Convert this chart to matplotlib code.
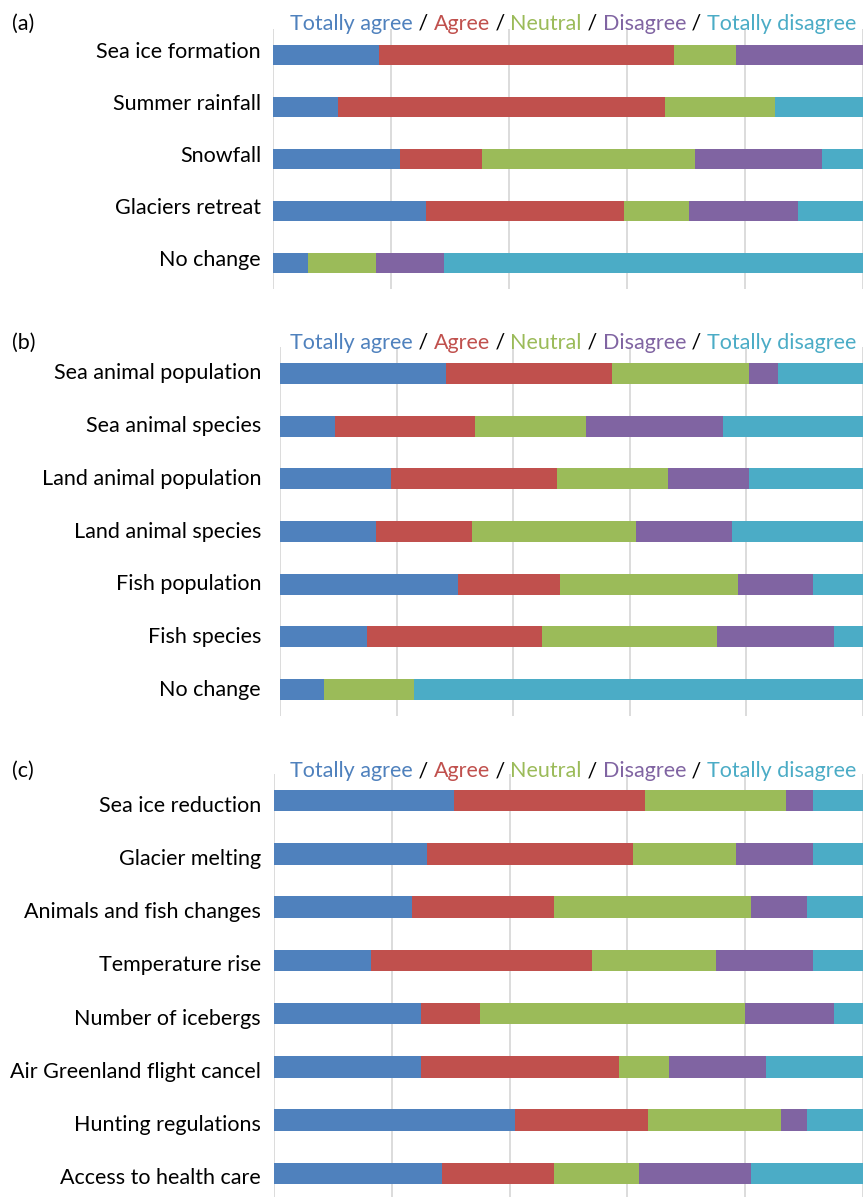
import numpy as np
import matplotlib
matplotlib.use("Agg")
import matplotlib.pyplot as plt

plt.rcParams['font.family'] = ['Lato', 'DejaVu Sans']

# response categories and colours
answers = ["Totally agree", "Agree", "Neutral", "Disagree", "Totally disagree"]
colors = ["#4F81BD", "#C0504D", "#9BBB59", "#8064A2", "#4BACC6"]

# (a) physical changes, % of respondents
items_a = ["Sea ice formation", "Summer rainfall", "Snowfall", "Glaciers retreat", "No change"]
totally_agree_a = [18, 11, 21.5, 26, 6]
agree_a = [50, 55.5, 14, 33.5, 0]
neutral_a = [10.5, 18.5, 36, 11, 11.5]
disagree_a = [21.5, 0, 21.5, 18.5, 11.5]
totally_disagree_a = [0, 15, 7, 11, 71]

# (b) animals and fish
items_b = ["Sea animal population", "Sea animal species", "Land animal population",
           "Land animal species", "Fish population", "Fish species", "No change"]
totally_agree_b = [28.5, 9.5, 19, 16.5, 30.5, 15, 7.5]
agree_b = [28.5, 24, 28.5, 16.5, 17.5, 30, 0]
neutral_b = [23.5, 19, 19, 28, 30.5, 30, 15.5]
disagree_b = [5, 23.5, 14, 16.5, 13, 20, 0]
totally_disagree_b = [14.5, 24, 19.5, 22.5, 8.5, 5, 77]

# (c) effects on daily life
items_c = ["Sea ice reduction", "Glacier melting", "Animals and fish changes", "Temperature rise",
           "Number of icebergs", "Air Greenland flight cancel", "Hunting regulations",
           "Access to health care"]
totally_agree_c = [30.5, 26, 23.5, 16.5, 25, 25, 41, 28.5]
agree_c = [32.5, 35, 24, 37.5, 10, 33.5, 22.5, 19]
neutral_c = [24, 17.5, 33.5, 21, 45, 8.5, 22.5, 14.5]
disagree_c = [4.5, 13, 9.5, 16.5, 15, 16.5, 4.5, 19]
totally_disagree_c = [8.5, 8.5, 9.5, 8.5, 5, 16.5, 9.5, 19]

W, H = 863, 1197
fig = plt.figure(figsize=(W/100, H/100), dpi=100)

def px_axes(left, top, bottom):
    return fig.add_axes([left/W, 1-bottom/H, 1-left/W, (bottom-top)/H])

def panel(ax, items, series, tag, head_y, left_px, label_dy=0):
    n = len(items)
    y = np.arange(n)
    left = np.zeros(n)
    for vals, c in zip(series, colors):
        vals = np.array(vals, dtype=float)
        ax.barh(y, vals, left=left, height=0.4, color=c, edgecolor='none', zorder=3)
        left += vals
    ax.set_xlim(0, 100)
    ax.set_ylim(n-0.5, -0.5)
    ax.set_yticks(y)
    ax.set_yticklabels([])
    ax.tick_params(axis='y', length=0)
    for yi, name in zip(y, items):
        ax.annotate(name, xy=(0, yi), xycoords=('axes fraction', 'data'),
                    xytext=(-(left_px-261)*0.72, -label_dy*0.72), textcoords='offset points',
                    ha='right', va='center', fontsize=15.5)
    ax.set_xticks([0, 20, 40, 60, 80, 100])
    ax.tick_params(axis='x', length=0, labelbottom=False)
    ax.grid(axis='x', color='#d9d9d9', linewidth=1.3, zorder=0)
    for s in ax.spines.values():
        s.set_visible(False)
    fy = 1 - head_y/H
    fig.text(12/W, fy, tag, fontsize=15.5, va='center', ha='left')
    # coloured legend line
    t = fig.text(290/W, fy, answers[0], color=colors[0], fontsize=15.5, va='center', ha='left')
    for a, c in zip(answers[1:], colors[1:]):
        t = ax.annotate(" / ", xy=(1, 0), xycoords=t, va='bottom', ha='left', fontsize=15.5, color='black')
        t = ax.annotate(a, xy=(1, 0), xycoords=t, va='bottom', ha='left', fontsize=15.5, color=c)

ax_a = px_axes(273, 29, 289)
panel(ax_a, items_a, [totally_agree_a, agree_a, neutral_a, disagree_a, totally_disagree_a], "(a)", 24, 273, -3)

ax_b = px_axes(280, 347, 716)
panel(ax_b, items_b, [totally_agree_b, agree_b, neutral_b, disagree_b, totally_disagree_b], "(b)", 343, 280, 0)

ax_c = px_axes(274, 774, 1200)
panel(ax_c, items_c, [totally_agree_c, agree_c, neutral_c, disagree_c, totally_disagree_c], "(c)", 771, 274, 5)

fig.savefig("out.png", dpi=100)
